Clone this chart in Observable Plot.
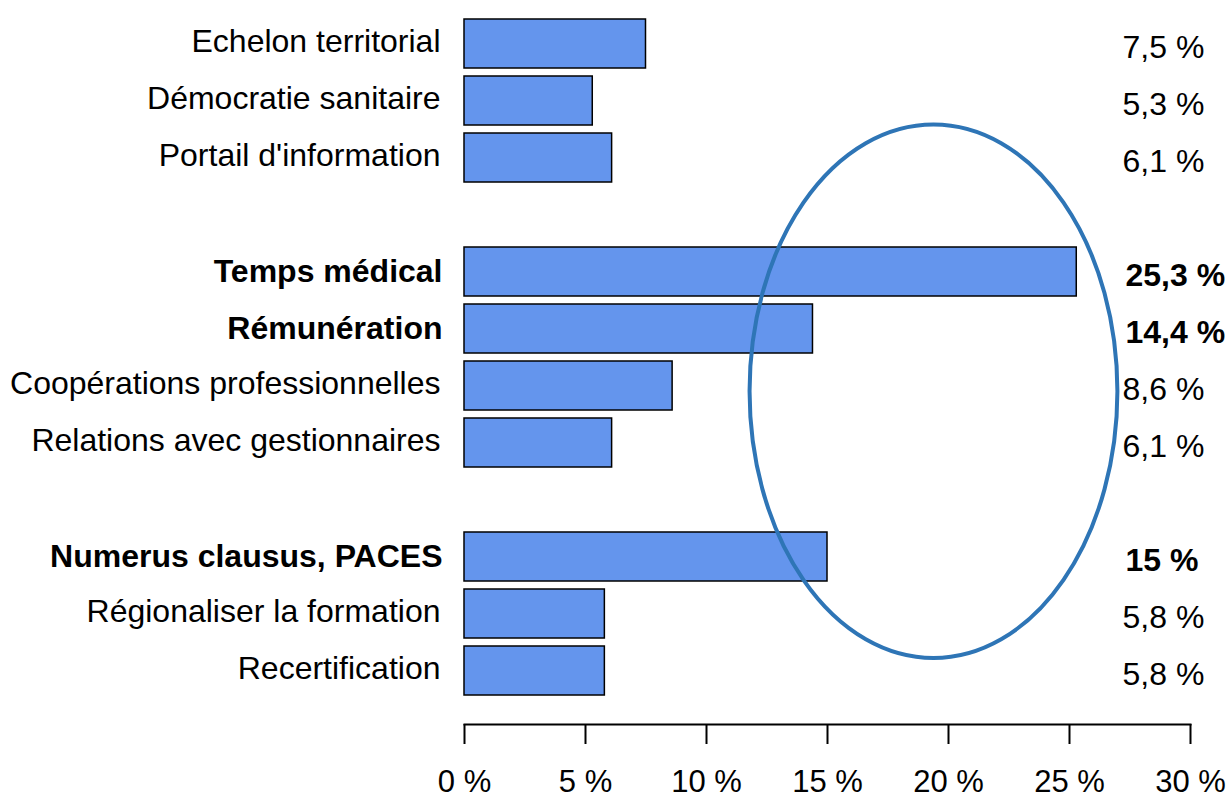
<!DOCTYPE html>
<html>
<head>
<meta charset="utf-8">
<script src="https://cdn.jsdelivr.net/npm/d3@7"></script>
<script src="https://cdn.jsdelivr.net/npm/@observablehq/plot@0.6"></script>
<style>
  html, body { margin: 0; padding: 0; background: #fff; }
  #chart { width: 1228px; height: 800px; }
</style>
</head>
<body>
<div id="chart"></div>
<script>
const categories = [
  "Echelon territorial", "Démocratie sanitaire", "Portail d'information",
  "Temps médical", "Rémunération", "Coopérations professionnelles", "Relations avec gestionnaires",
  "Numerus clausus, PACES", "Régionaliser la formation", "Recertification"
];
const values = [7.5, 5.3, 6.1, 25.3, 14.4, 8.6, 6.1, 15, 5.8, 5.8];
const groups = [1, 1, 1, 2, 2, 2, 2, 3, 3, 3];
const highlighted = ["Temps médical", "Rémunération", "Numerus clausus, PACES"];
const xTicks = [0, 5, 10, 15, 20, 25, 30];

const rows = categories.map((c, i) => ({
  category: c, value: values[i], group: groups[i], bold: highlighted.includes(c)
}));

// y domain with a blank spacer between groups
const yDomain = [];
rows.forEach((r, i) => {
  if (i > 0 && rows[i - 1].group !== r.group) yDomain.push(" ".repeat(r.group));
  yDomain.push(r.category);
});

const fmt = v => String(v).replace(".", ",") + " %";
const FONT = "'Liberation Sans', Arial, Helvetica, sans-serif";

const chart = Plot.plot({
  width: 1228,
  height: 800,
  marginLeft: 464,
  marginRight: 38,
  marginTop: 0,
  marginBottom: 76,
  style: { fontFamily: FONT, fontSize: "32px", color: "#000", background: "#fff" },
  x: { domain: [0, 30], ticks: xTicks, tickFormat: d => d + " %" },
  y: { domain: yDomain, paddingInner: 0.143, paddingOuter: 0.402, align: 0.39, axis: null },
  marks: [
    Plot.barX(rows, { x: "value", y: "category", fill: "#6495ED", stroke: "#000", strokeWidth: 1.5 }),
    Plot.frame({ anchor: "bottom", stroke: "#000", strokeWidth: 2 }),
    Plot.axisX({ ticks: xTicks, tickFormat: d => d + " %", tickSize: 20, tickPadding: 25,
      strokeWidth: 2, stroke: "#000", fontSize: 31, label: null }),
    Plot.text(rows.filter(d => !d.bold), { y: "category", text: "category", frameAnchor: "left",
      textAnchor: "end", dx: -24, dy: -2, fill: "#000", fontSize: 32 }),
    Plot.text(rows.filter(d => d.bold), { y: "category", text: "category", frameAnchor: "left",
      textAnchor: "end", dx: -22, fill: "#000", fontSize: 32, fontWeight: "bold" }),
    Plot.text(rows.filter(d => !d.bold), { y: "category", text: d => fmt(d.value), frameAnchor: "right",
      textAnchor: "start", dx: -68, dy: 4, fill: "#000", fontSize: 32 }),
    Plot.text(rows.filter(d => d.bold), { y: "category", text: d => fmt(d.value), frameAnchor: "right",
      textAnchor: "start", dx: -65, dy: 4, fill: "#000", fontSize: 32, fontWeight: "bold" })
  ]
});

// Highlight ellipse, positioned through the chart's own scales
const sx = chart.scale("x");
const sy = chart.scale("y");
const cx = sx.apply(19.4);
const rx = sx.apply(19.4 + 7.6) - cx;
const cy = sy.apply("Coopérations professionnelles") + sy.bandwidth / 2 + 0.1 * sy.step;
const ry = 4.68 * sy.step;
d3.select(chart).append("ellipse")
  .attr("cx", cx).attr("cy", cy).attr("rx", rx).attr("ry", ry)
  .attr("fill", "none").attr("stroke", "#2E75B6").attr("stroke-width", 4);

document.getElementById("chart").appendChild(chart);
</script>
</body>
</html>
